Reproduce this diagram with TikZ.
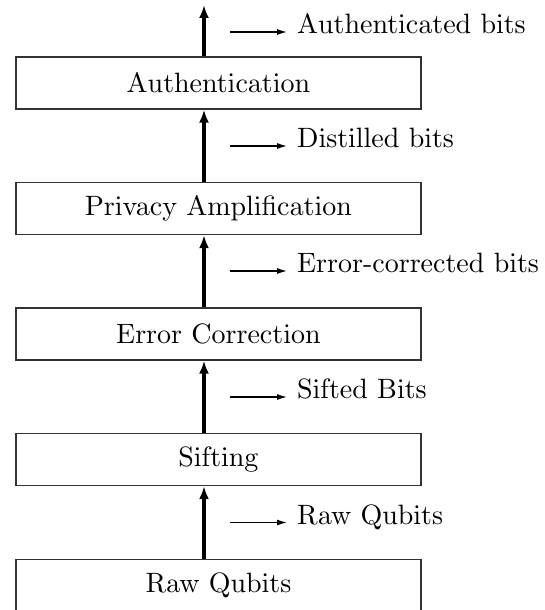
\documentclass[tikz,border=0pt]{standalone}
\usetikzlibrary{arrows.meta}
\font\bigcm=cmr10 at 28pt
\begin{document}
\begin{tikzpicture}[x=1pt,y=-1pt,
  stagebox/.style={draw=black!80,line width=1.2pt,minimum width=405pt,minimum height=52pt,inner sep=0pt,font=\bigcm},
  mainarrow/.style={line width=4pt,-{Latex[length=13pt,width=10pt]}},
  smallarrow/.style={line width=1.2pt,-{Latex[length=10pt,width=6pt]}},
  lbl/.style={anchor=base west,inner sep=0pt,font=\bigcm}]
\useasboundingbox (0,0) rectangle (544,610);
\node[stagebox] (auth) at (218.5,83) {Authentication};
\node[stagebox] (priv) at (218.5,208.5) {Privacy Amplification};
\node[stagebox] (err) at (218.5,334) {Error Correction};
\node[stagebox] (sift) at (218.5,459.5) {Sifting};
\node[stagebox] (raw) at (218.5,585.5) {Raw Qubits};
\coordinate (ax) at (204,0);
\coordinate (topend) at (204,5);
\draw[mainarrow] (raw.north -| ax) -- (sift.south -| ax);
\draw[mainarrow] (sift.north -| ax) -- (err.south -| ax);
\draw[mainarrow] (err.north -| ax) -- (priv.south -| ax);
\draw[mainarrow] (priv.north -| ax) -- (auth.south -| ax);
\draw[mainarrow] (auth.north -| ax) -- (topend);
\foreach \y/\t/\n in {32/Authenticated bits/a, 146/Distilled bits/b, 271/Error-corrected bits/c, 397/Sifted Bits/d, 522.5/Raw Qubits/e}{
  \coordinate (s\n) at (230,\y);
  \coordinate (e\n) at (287,\y);
  \draw[smallarrow] (s\n) -- (e\n);
  \node[lbl] (l\n) at (297,\y+1.5) {\t};
}
\end{tikzpicture}
\end{document}
